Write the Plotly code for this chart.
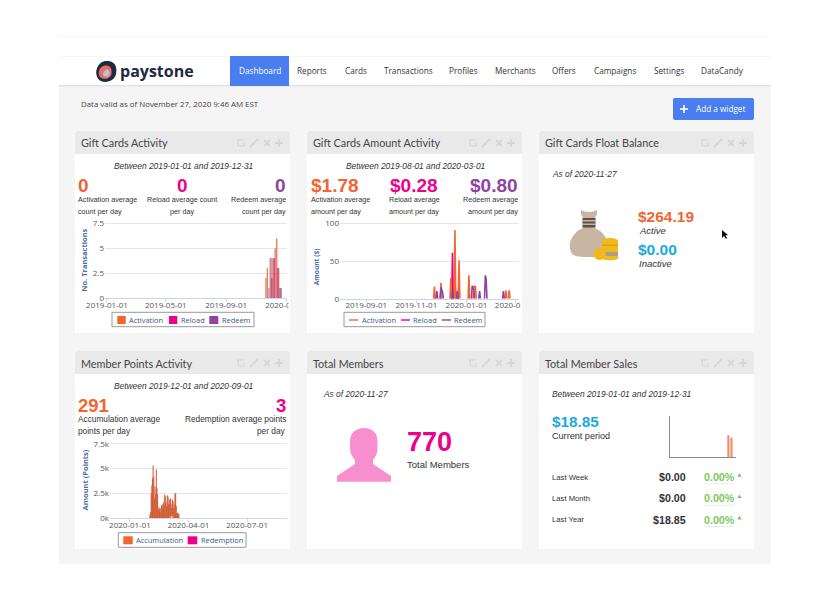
import re
import pandas as pd
import plotly.graph_objects as go

W = 830
H = 600

ORANGE = "#f26531"
MAGENTA = "#ec008c"
PURPLE = "#8e44a0"
BLUE = "#1ba9e0"
GREEN = "#7cc95c"
NAVY = "#1e2a44"
TITLE_FONT = "Lato"
BODY_FONT = "Liberation Sans"
AXIS_FONT = "Open Sans"
AXIS_BLUE = "#4f6f9f"

# top navigation
nav_labels = ["Dashboard", "Reports", "Cards", "Transactions", "Profiles", "Merchants",
              "Offers", "Campaigns", "Settings", "DataCandy"]
nav_centers = [259.5, 312, 356, 408, 463, 515, 564, 615, 669, 722.5]

# Gift Cards Activity (weekly-ish counts)
activation_dates = ["2019-11-21", "2019-11-24", "2019-11-30", "2019-12-06", "2019-12-10",
                    "2019-12-13", "2019-12-17", "2019-12-21"]
activation_counts = [2, 3, 4, 4, 5, 6, 3, 1]
reload_dates = ["2019-12-03", "2019-12-08", "2019-12-15"]
reload_counts = [2, 4, 3]
redeem_dates = ["2019-11-27", "2019-12-03", "2019-12-19", "2019-12-22"]
redeem_counts = [1, 4, 1, 1]

# Gift Cards Amount Activity, None breaks the line between spikes
act_amount_dates = ["2019-11-22", "2019-11-23", "2019-11-24", None,
                    "2019-11-30", "2019-12-01", "2019-12-02", None,
                    "2019-12-12", "2019-12-13", "2019-12-14", None,
                    "2019-12-17", "2019-12-18", "2019-12-19", None,
                    "2019-12-22", "2019-12-23", "2019-12-24", None,
                    "2020-01-03", "2020-01-04", "2020-01-05", None,
                    "2020-01-09", "2020-01-10", "2020-01-12", "2020-01-13", None,
                    "2020-02-17", "2020-02-18", "2020-02-19", None,
                    "2020-02-21", "2020-02-22", "2020-02-23"]
act_amounts = [0, 16, 0, None,
               0, 21, 0, None,
               0, 27, 0, None,
               0, 91, 0, None,
               0, 51, 0, None,
               0, 31, 0, None,
               0, 16, 16, 0, None,
               0, 11, 0, None,
               0, 11, 0]
rel_amount_dates = ["2019-12-14", "2019-12-15", "2019-12-16", None,
                    "2019-12-20", "2019-12-21", "2019-12-22"]
rel_amounts = [0, 61, 0, None, 0, 10, 0]
red_amount_dates = ["2019-11-25", "2019-11-26", "2019-11-27", None,
                    "2019-11-30", "2019-12-01", "2019-12-03", "2019-12-04", None,
                    "2019-12-14", "2019-12-15", "2019-12-16", None,
                    "2019-12-20", "2019-12-21", "2019-12-22", None,
                    "2020-01-07", "2020-01-08", "2020-01-10", "2020-01-11", None,
                    "2020-01-16", "2020-01-17", "2020-01-18", None,
                    "2020-01-23", "2020-01-24", "2020-01-25", "2020-01-26", None,
                    "2020-02-14", "2020-02-15", "2020-02-16"]
red_amounts = [0, 10, 0, None,
               0, 15, 8, 0, None,
               0, 10, 0, None,
               0, 10, 0, None,
               0, 17, 12, 0, None,
               0, 10, 0, None,
               0, 31, 26, 0, None,
               0, 10, 0]

# Member Points Activity, one value a day from 2020-02-01
accumulation_points = [300, 600, 2500, 3300, 4000, 5300, 4200, 2000, 3200, 2400, 4900, 3000,
                       2400, 800, 1100, 900, 1000, 600, 1300, 1000, 1400, 1600, 1200, 2400,
                       2200, 1600, 1200, 2300, 2200, 1400, 1900, 1500, 2000, 1400, 1000, 1900,
                       1700, 1000, 1400, 2500, 2500, 1200, 500, 500, 500, 400]
accumulation_dates = pd.date_range("2020-02-01", periods=len(accumulation_points))
redemption_dates = ["2020-03-05", "2020-03-06", "2020-03-07"]
redemption_points = [150, 250, 120]

# Total Member Sales sparkline
sales_dates = ["2019-11-19", "2019-12-06"]
sales_values = [10.0, 8.85]
sales_rows = ["Last Week", "Last Month", "Last Year"]
sales_row_values = ["$0.00", "$0.00", "$18.85"]
sales_row_pct = ["0.00%", "0.00%", "0.00%"]


def px(x):
    return x / W


def py(y):
    return 1 - y / H


# svg path written in pixels -> paper coordinates
def path(d):
    def conv(m):
        return "%.5f %.5f" % (px(float(m.group(1))), py(float(m.group(2))))
    return re.sub(r"(-?\d+\.?\d*) (-?\d+\.?\d*)", conv, d)


shapes = []
annotations = []


def rect(x0, y0, x1, y1, color, line=None, layer="below", lw=1):
    shapes.append(dict(type="rect", xref="paper", yref="paper", x0=px(x0), x1=px(x1),
                       y0=py(y0), y1=py(y1), fillcolor=color, layer=layer,
                       line=dict(color=line, width=lw) if line else dict(width=0)))


def blob(d, color, layer="below"):
    shapes.append(dict(type="path", xref="paper", yref="paper", path=path(d),
                       fillcolor=color, line=dict(width=0), layer=layer))


def stroke(d, color, lw=1):
    shapes.append(dict(type="path", xref="paper", yref="paper", path=path(d),
                       line=dict(color=color, width=lw), layer="below"))


def txt(x, y, s, size, color="#333333", anchor="left", font=BODY_FONT, angle=0):
    # annotations keep about a pixel of padding
    if anchor == "left":
        x -= 0.8
    elif anchor == "right":
        x += 0.8
    annotations.append(dict(x=px(x), y=py(y), xref="paper", yref="paper", text=s, showarrow=False,
                            xanchor=anchor, yanchor="middle", borderpad=0, textangle=angle,
                            font=dict(size=size, color=color, family=font)))


# page
rect(58, 36, 770, 36.6, "#f0f0f0")
rect(59, 56, 771, 86, "#ffffff")
rect(59, 56, 771, 56.6, "#eeeeee")
rect(59, 85, 771, 564, "#f5f5f5")
rect(59, 85, 771, 86.5, "#e2e2e2")
rect(230, 56, 289, 86, "#4a7def")

# logo
blob("M 107 61 C 117 61 117 70 116 74 C 115 80 108 83 102 81.5 C 96 79.5 95 72 97.5 67 C 100 62.5 103 61 107 61 Z", NAVY)
blob("M 105 65.5 C 112 64.5 112.5 72 111 75.5 C 109 79.5 102 80 99.5 76.5 C 97.5 72 99.5 66.5 105 65.5 Z", "#ef6a5e")
blob("M 107 69.5 C 110 69.5 110.5 74 108.5 76 C 105.5 78 103 76 103 74 C 103 72 105 69.5 107 69.5 Z", "#a9c4de")
txt(120, 71, "<b>paystone</b>", 16, NAVY, font="Open Sans")

for label, cx in zip(nav_labels, nav_centers):
    txt(cx, 71, label, 8.2, "#ffffff" if label == "Dashboard" else "#333333", "center", "Open Sans")

txt(81, 104, "Data valid as of November 27, 2020 9:46 AM EST", 7.9, "#444444", font="Open Sans")
blob("M 675 98 L 752 98 Q 754 98 754 100 L 754 118 Q 754 120 752 120 L 675 120 Q 673 120 673 118 "
     "L 673 100 Q 673 98 675 98 Z", "#4a7def")
rect(680, 108.2, 688, 109.8, "#ffffff")
rect(683.2, 105, 684.8, 113, "#ffffff")
txt(696, 109, "Add a widget", 8.2, "#ffffff", font="Open Sans")

# panels
panels = [(75, 131, 202, "Gift Cards Activity"), (307, 131, 202, "Gift Cards Amount Activity"),
          (539, 131, 202, "Gift Cards Float Balance"), (75, 351, 198, "Member Points Activity"),
          (307, 351, 198, "Total Members"), (539, 351, 198, "Total Member Sales")]
for x0, y0, h, title in panels:
    rect(x0, y0, x0 + 215, y0 + h, "#ffffff")
    blob(f"M {x0} {y0 + 23} L {x0} {y0 + 3} Q {x0} {y0} {x0 + 3} {y0} L {x0 + 212} {y0} "
         f"Q {x0 + 215} {y0} {x0 + 215} {y0 + 3} L {x0 + 215} {y0 + 23} Z", "#e9e9e9")
    txt(x0 + 6, y0 + 12, title, 10.8, "#444444", font=TITLE_FONT)
    # header icons
    ic = "#d6d6d6"
    iy = y0 + 12
    stroke(f"M {x0 + 169} {iy - 3} L {x0 + 163} {iy - 3} L {x0 + 163} {iy + 3} L {x0 + 169} {iy + 3} L {x0 + 169} {iy}", ic, 1.2)
    stroke(f"M {x0 + 175} {iy + 4} L {x0 + 183} {iy - 4}", ic, 1.8)
    stroke(f"M {x0 + 189} {iy - 3} L {x0 + 195} {iy + 3} M {x0 + 195} {iy - 3} L {x0 + 189} {iy + 3}", ic, 1.8)
    stroke(f"M {x0 + 200} {iy} L {x0 + 208} {iy} M {x0 + 204} {iy - 4} L {x0 + 204} {iy + 4}", ic, 1.8)

# Gift Cards Activity text
txt(183, 166, "<i>Between 2019-01-01 and 2019-12-31</i>", 8.4, "#333333", "center")
txt(78, 185, "<b>0</b>", 19, ORANGE)
txt(182, 185, "<b>0</b>", 19, MAGENTA, "center")
txt(286, 185, "<b>0</b>", 19, PURPLE, "right")
txt(78, 199, "Activation average", 7.2)
txt(78, 211, "count per day", 7.2)
txt(182, 199, "Reload average count", 7.2, anchor="center")
txt(182, 211, "per day", 7.2, anchor="center")
txt(286, 199, "Redeem average", 7.2, anchor="right")
txt(286, 211, "count per day", 7.2, anchor="right")

# Gift Cards Amount Activity text
txt(415, 166, "<i>Between 2019-08-01 and 2020-03-01</i>", 8.4, "#333333", "center")
txt(311, 185, "<b>$1.78</b>", 19, ORANGE)
txt(414, 185, "<b>$0.28</b>", 19, MAGENTA, "center")
txt(518, 185, "<b>$0.80</b>", 19, PURPLE, "right")
txt(311, 199, "Activation average", 7.2)
txt(311, 211, "amount per day", 7.2)
txt(414, 199, "Reload average", 7.2, anchor="center")
txt(414, 211, "amount per day", 7.2, anchor="center")
txt(518, 199, "Redeem average", 7.2, anchor="right")
txt(518, 211, "amount per day", 7.2, anchor="right")

# Float balance
txt(552, 174, "<i>As of 2020-11-27</i>", 8.4)
txt(638, 216.7, "<b>$264.19</b>", 15.5, ORANGE)
txt(638.5, 230.7, "<i>Active</i>", 9.5)
txt(638, 249.3, "<b>$0.00</b>", 15.5, BLUE)
txt(638.5, 263.7, "<i>Inactive</i>", 9.5)
blob("M 581 210 Q 584 212 589 212 Q 594 212 597 210 L 597 214 L 595 218 L 595 228 C 605 232 611 244 607 252 "
     "C 605 257 598 257 589 257 C 580 257 573 257 571 252 C 567 243 573 232 583 228 L 583 218 L 581 214 Z",
     "#c8b6a3")
rect(582.5, 218, 595.5, 227.5, "#5a5048")
rect(582.5, 220, 595.5, 221.5, "#c8b6a3")
rect(582.5, 223.5, 595.5, 225, "#c8b6a3")
blob("M 602 241 C 602 237 618 237 618 241 L 618 258 C 618 261 602 261 602 258 Z", "#f4b81f")
rect(602, 244.5, 618, 246, "#d9a21c")
rect(602, 252, 618, 256, "#a8a08a")
blob("M 599.7 248 C 607.7 248 607.7 260 599.7 260 C 591.7 260 591.7 248 599.7 248 Z", "#f4b81f")
blob("M 722 230 L 722 238 L 724 236 L 726 239 L 727 238 L 725.5 235.5 L 728 235 Z", "#111111", "above")

# Member points text
txt(183, 386, "<i>Between 2019-12-01 and 2020-09-01</i>", 8.4, "#333333", "center")
txt(78, 405.7, "<b>291</b>", 18.5, ORANGE)
txt(286, 405.7, "<b>3</b>", 18.5, MAGENTA, "right")
txt(78, 419, "Accumulation average", 8.3)
txt(78, 431, "points per day", 8.3)
txt(286.5, 419, "Redemption average points", 8.3, anchor="right")
txt(286.5, 431, "per day", 8.3, anchor="right")

# Total members
txt(323, 394.3, "<i>As of 2020-11-27</i>", 8.4)
blob("M 364 428 C 372 428 377.5 433 377.5 441 L 377.5 448 C 377.5 453 376 457 373 460 L 373 464 L 391 476 "
     "L 391 481.7 L 337 481.7 L 337 476 L 355 464 L 355 460 C 352 457 350 453 350 448 L 350 441 "
     "C 350 433 356 428 364 428 Z", "#f78fcf")
txt(406.5, 441.7, "<b>770</b>", 27, MAGENTA)
txt(407, 464.7, "Total Members", 9.5)

# Total member sales
txt(552, 394.3, "<i>Between 2019-01-01 and 2019-12-31</i>", 8.4)
txt(552, 421.3, "<b>$18.85</b>", 15.3, BLUE)
txt(552, 436, "Current period", 9.1)
row_y = [477, 498.3, 519.7]
for y, name, value, pct in zip(row_y, sales_rows, sales_row_values, sales_row_pct):
    txt(552, y, name, 7.7)
    txt(685.7, y, f"<b>{value}</b>", 10.7, "#333333", "right")
    txt(703.3, y, f"<b>{pct}</b>", 10.7, GREEN)
    blob(f"M 737.3 {y - 0.3} L 741.7 {y - 0.3} L 739.5 {y - 3.9} Z", GREEN)
    rect(703.3, y + 6.5, 734, y + 7.2, "#d9ead3")

# axis captions, placed by hand like the widget does
txt(84, 260.7, "<b>No. Transactions</b>", 7.5, AXIS_BLUE, "center", AXIS_FONT, -90)
txt(316.7, 266.5, "<b>Amount ($)</b>", 6.6, AXIS_BLUE, "center", AXIS_FONT, -90)
txt(84, 480.5, "<b>Amount (Points)</b>", 7.5, AXIS_BLUE, "center", AXIS_FONT, -90)

# legends, drawn small like the original widget
legend_text = "#3a5a8a"


def legend_box(x0, y0, x1, y1):
    rect(x0, y0, x1, y1, "#ffffff", line="#999999")


def legend_swatch(x0, x1, y, color, text, tx, kind="box"):
    if kind == "box":
        rect(x0, y - 4, x1, y + 4, color)
    else:
        rect(x0, y - 0.7, x1, y + 0.7, color)
    txt(tx, y, text, 7.4, legend_text, font=AXIS_FONT)


legend_box(112, 312.3, 254, 326.7)
legend_swatch(117.3, 125.7, 320, ORANGE, "Activation", 129)
legend_swatch(169, 177.3, 320, MAGENTA, "Reload", 181)
legend_swatch(209.3, 218.3, 320, PURPLE, "Redeem", 221.7)
legend_box(344, 312.3, 485, 326.7)
legend_swatch(349, 358.3, 320, ORANGE, "Activation", 361.3, "line")
legend_swatch(401, 410, 320, MAGENTA, "Reload", 413, "line")
legend_swatch(441.7, 451, 320, PURPLE, "Redeem", 453.7, "line")
legend_box(118.3, 532.7, 246, 547.3)
legend_swatch(123.3, 132.7, 540.3, ORANGE, "Accumulation", 135.7)
legend_swatch(187.7, 197.3, 540.3, MAGENTA, "Redemption", 200.7)

# hide the tick labels running out of their widgets
rect(288.5, 299, 290, 311, "#ffffff", layer="above")
rect(290, 299, 307, 311, "#f5f5f5", layer="above")
rect(520.5, 299, 522, 311, "#ffffff", layer="above")
rect(522, 299, 539, 311, "#f5f5f5", layer="above")

fig = go.Figure()
DAY = 86400000

bar_edge = dict(color="rgba(110,110,110,0.4)", width=0.4)
fig.add_trace(go.Bar(x=activation_dates, y=activation_counts, name="Activation", width=2.6 * DAY,
                     marker=dict(color=ORANGE, line=bar_edge), opacity=0.8, xaxis="x", yaxis="y"))
fig.add_trace(go.Bar(x=reload_dates, y=reload_counts, name="Reload", width=2.6 * DAY,
                     marker=dict(color=MAGENTA, line=bar_edge), opacity=0.7, xaxis="x", yaxis="y"))
fig.add_trace(go.Bar(x=redeem_dates, y=redeem_counts, name="Redeem", width=2.6 * DAY,
                     marker=dict(color=PURPLE, line=bar_edge), opacity=0.55, xaxis="x", yaxis="y"))

fig.add_trace(go.Scatter(x=rel_amount_dates, y=rel_amounts, name="Reload", mode="lines",
                         line=dict(color=MAGENTA, width=1.6), xaxis="x2", yaxis="y2"))
fig.add_trace(go.Scatter(x=act_amount_dates, y=act_amounts, name="Activation", mode="lines",
                         line=dict(color=ORANGE, width=1.6), xaxis="x2", yaxis="y2"))
fig.add_trace(go.Scatter(x=red_amount_dates, y=red_amounts, name="Redeem", mode="lines",
                         line=dict(color=PURPLE, width=1.6), xaxis="x2", yaxis="y2"))

fig.add_trace(go.Bar(x=accumulation_dates, y=accumulation_points, name="Accumulation", width=1.5 * DAY,
                     marker=dict(color="#e4572a", line=dict(color="rgba(120,120,120,0.3)", width=0.3)),
                     xaxis="x3", yaxis="y3"))
fig.add_trace(go.Bar(x=redemption_dates, y=redemption_points, name="Redemption", width=DAY,
                     marker=dict(color=MAGENTA), xaxis="x3", yaxis="y3"))

fig.add_trace(go.Bar(x=sales_dates, y=sales_values, name="Sales", width=8 * DAY,
                     marker=dict(color="#f09a7c", line=dict(color="#e8714a", width=0.5)),
                     xaxis="x4", yaxis="y4"))


def date_axis(x0, x1, rng, ticks):
    return dict(domain=[px(x0), px(x1)], range=rng, type="date", tickvals=ticks, tickformat="%Y-%m-%d",
                showgrid=False, zeroline=False, showline=True, linecolor="#ccd6eb", linewidth=1,
                ticks="outside", ticklen=3, tickcolor="#ccd6eb", fixedrange=True, automargin=False,
                ticklabelstandoff=-4, tickfont=dict(size=8, family=AXIS_FONT, color="#555555"))


# the top of each range leaves 2px over, plotly drops a gridline sitting on the very edge
def value_axis(y_top, y_bottom, rng, anchor, vals, labels):
    return dict(domain=[py(y_bottom), py(y_top)], range=rng, anchor=anchor, tickvals=vals, ticktext=labels,
                showgrid=True, gridcolor="#e6e6e6", gridwidth=1, zeroline=False, showline=False,
                ticks="", fixedrange=True, automargin=False,
                tickfont=dict(size=8, family=AXIS_FONT, color="#555555"))


fig.update_layout(
    width=W, height=H, autosize=False, margin=dict(l=0, r=0, t=0, b=0),
    paper_bgcolor="#ffffff", plot_bgcolor="rgba(0,0,0,0)", showlegend=False,
    barmode="overlay", shapes=shapes, annotations=annotations,
    xaxis=date_axis(105, 287, ["2018-12-28", "2020-01-03"],
                    ["2019-01-01", "2019-05-01", "2019-09-01", "2020-01-01"]),
    yaxis=value_axis(221.7, 298, [0, 7.7], "x", [0, 2.5, 5, 7.5], ["0", "2.5", "5", "7.5"]),
    xaxis2=date_axis(340, 519, ["2019-07-31", "2020-03-05"],
                     ["2019-09-01", "2019-11-01", "2020-01-01", "2020-03-01"]) | {"anchor": "y2"},
    yaxis2=value_axis(221.3, 298.7, [0, 102.65], "x2", [0, 50, 100], ["0", "50", "100"]),
    xaxis3=date_axis(110, 287, ["2019-12-01", "2020-09-01"],
                     ["2020-01-01", "2020-04-01", "2020-07-01"]) | {"anchor": "y3"},
    yaxis3=value_axis(441.7, 518.3, [0, 7700], "x3", [0, 2500, 5000, 7500], ["0k", "2.5k", "5k", "7.5k"]),
    xaxis4=dict(domain=[px(670.3), px(736)], range=["2019-01-01", "2019-12-31"], type="date", anchor="y4",
                showticklabels=False, ticks="", showgrid=False, zeroline=False, showline=True,
                linecolor="#8a8a8a", linewidth=1, fixedrange=True, automargin=False),
    yaxis4=dict(domain=[py(457.3), py(416)], range=[0, 19], anchor="x4", showticklabels=False, ticks="",
                showgrid=False, zeroline=False, showline=True, linecolor="#8a8a8a", linewidth=1,
                fixedrange=True, automargin=False),
)

fig.write_html("out.html", config={"displayModeBar": False},
               post_script="document.body.style.margin='0';document.documentElement.style.overflow='hidden';")
